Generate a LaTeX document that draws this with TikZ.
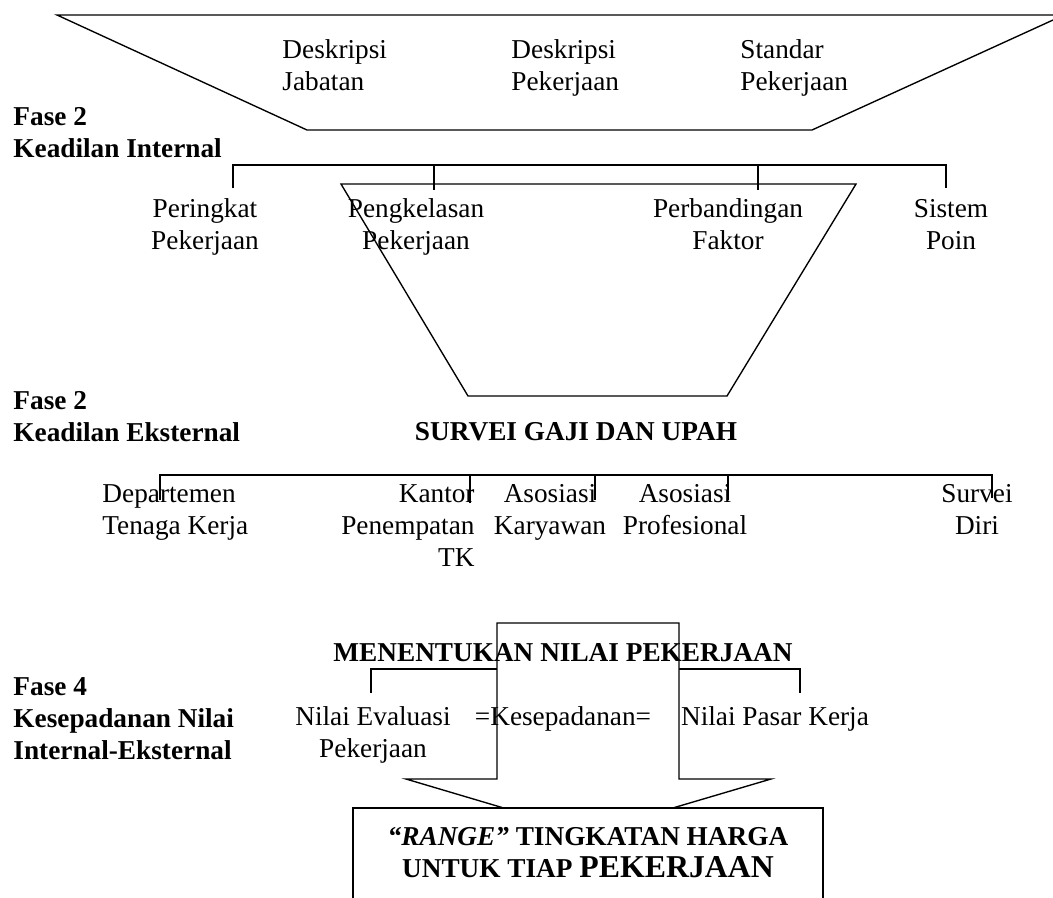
\documentclass[tikz,border=0pt]{standalone}
\usepackage{fontspec}
\setmainfont{Liberation Serif}
\usepackage{tkz-euclide}
\usepackage{tikz}

\tikzset{
    txt/.style={align=center, inner sep=0pt, font=\fontsize{12}{14.1}\selectfont},
    txtl/.style={align=left, inner sep=0pt, anchor=north west, font=\fontsize{12}{14.1}\selectfont},
    fase/.style={align=left, inner sep=0pt, anchor=north west, font=\fontsize{12}{14.1}\selectfont\bfseries},
    judul/.style={inner sep=0pt, anchor=north, font=\fontsize{12}{14.1}\selectfont\bfseries},
    garis/.style={line width=0.6pt},
}

\begin{document}
\begin{tikzpicture}[x=0.44pt, y=-0.44pt]
        \useasboundingbox (0,0) rectangle (1053,897);

        % fase 1
        \tkzDefPoint(57,15){A_1}
        \tkzDefPoint(1064,15){A_2}
        \tkzDefPoint(812,130){A_3}
        \tkzDefPoint(307,130){A_4}
        \draw[garis] (A_1) -- (A_2) -- (A_3) -- (A_4) -- cycle;

        \node[txtl] (desJab) at (282,39) {Deskripsi\\Jabatan};
        \node[txtl] (desPek) at (511,39) {Deskripsi\\Pekerjaan};
        \node[txtl] (stdPek) at (740,39) {Standar\\Pekerjaan};

        % fase 2 internal
        \node[fase] (faseInt) at (13,107) {Fase 2\\Keadilan Internal};

        \tkzDefPoint(233,165){B_1}
        \tkzDefPoint(946,165){B_2}
        \tkzDefPoint(233,188){B_3}
        \tkzDefPoint(946,188){B_4}
        \tkzDefPoint(434,165){B_5}
        \tkzDefPoint(434,190){B_6}
        \tkzDefPoint(758,165){B_7}
        \tkzDefPoint(758,190){B_8}
        \draw[garis] (B_3) -- (B_1) -- (B_2) -- (B_4);
        \draw[garis] (B_5) -- (B_6);
        \draw[garis] (B_7) -- (B_8);

        \tkzDefPoint(341,184){C_1}
        \tkzDefPoint(856,184){C_2}
        \tkzDefPoint(727,396){C_3}
        \tkzDefPoint(468,396){C_4}
        \draw[garis] (C_1) -- (C_2) -- (C_3) -- (C_4) -- cycle;

        \node[txt, anchor=north] (perPek) at (205,198) {Peringkat\\Pekerjaan};
        \node[txt, anchor=north] (kelPek) at (416,198) {Pengkelasan\\Pekerjaan};
        \node[txt, anchor=north] (banFak) at (728,198) {Perbandingan\\Faktor};
        \node[txt, anchor=north] (sisPoi) at (951,199) {Sistem\\Poin};

        % fase 2 eksternal
        \node[fase] (faseEks) at (13,391) {Fase 2\\Keadilan Eksternal};
        \node[judul] (survei) at (576,422) {SURVEI GAJI DAN UPAH};

        \tkzDefPoint(160,475){D_1}
        \tkzDefPoint(992,475){D_2}
        \tkzDefPoint(160,500){D_3}
        \tkzDefPoint(992,498){D_4}
        \tkzDefPoint(470,475){D_5}
        \tkzDefPoint(470,503){D_6}
        \tkzDefPoint(595,475){D_7}
        \tkzDefPoint(595,500){D_8}
        \tkzDefPoint(728,475){D_9}
        \tkzDefPoint(728,500){D_10}
        \draw[garis] (D_3) -- (D_1) -- (D_2) -- (D_4);
        \draw[garis] (D_5) -- (D_6);
        \draw[garis] (D_7) -- (D_8);
        \draw[garis] (D_9) -- (D_10);

        \node[txtl] (depTK) at (102,484) {Departemen\\Tenaga Kerja};
        \node[txt, align=right, anchor=north east] (kanTK) at (475,484) {Kantor\\Penempatan\\TK};
        \node[txt, anchor=north] (asoKar) at (550,484) {Asosiasi\\Karyawan};
        \node[txt, anchor=north] (asoPro) at (685,484) {Asosiasi\\Profesional};
        \node[txt, anchor=north] (surDir) at (977,484) {Survei\\Diri};

        % fase 4
        \node[fase] (faseKes) at (13,677) {Fase 4\\Kesepadanan Nilai\\Internal-Eksternal};

        \tkzDefPoint(371,669){E_1}
        \tkzDefPoint(800,669){E_2}
        \tkzDefPoint(371,693){E_3}
        \tkzDefPoint(800,693){E_4}
        \draw[garis] (E_3) -- (E_1) -- (E_2) -- (E_4);

        \tkzDefPoint(497,623){P_1}
        \tkzDefPoint(679,623){P_2}
        \tkzDefPoint(679,779){P_3}
        \tkzDefPoint(771,779){P_4}
        \tkzDefPoint(588,833){P_5}
        \tkzDefPoint(406,779){P_6}
        \tkzDefPoint(497,779){P_7}
        \draw[garis, fill=white] (P_1) -- (P_2) -- (P_3) -- (P_4) -- (P_5) -- (P_6) -- (P_7) -- cycle;

        \node[judul] (nilai) at (563,643) {MENENTUKAN NILAI PEKERJAAN};
        \node[txt, anchor=north] (nilEva) at (373,706) {Nilai Evaluasi\\Pekerjaan};
        \node[txt, anchor=north] (kesep) at (563,706) {=Kesepadanan=};
        \node[txt, anchor=north] (nilPas) at (775,706) {Nilai Pasar Kerja};

        \tkzDefPoint(353,808){R_1}
        \tkzDefPoint(823,808){R_2}
        \tkzDefPoint(823,905){R_3}
        \tkzDefPoint(353,905){R_4}
        \draw[garis, fill=white] (R_1) -- (R_2) -- (R_3) -- (R_4) -- cycle;

        \node[judul, align=center] (range) at (588,827)
            {{\itshape “RANGE”} TINGKATAN HARGA\\UNTUK TIAP {\fontsize{14}{14.1}\selectfont PEKERJAAN}};
    \end{tikzpicture}
\end{document}
